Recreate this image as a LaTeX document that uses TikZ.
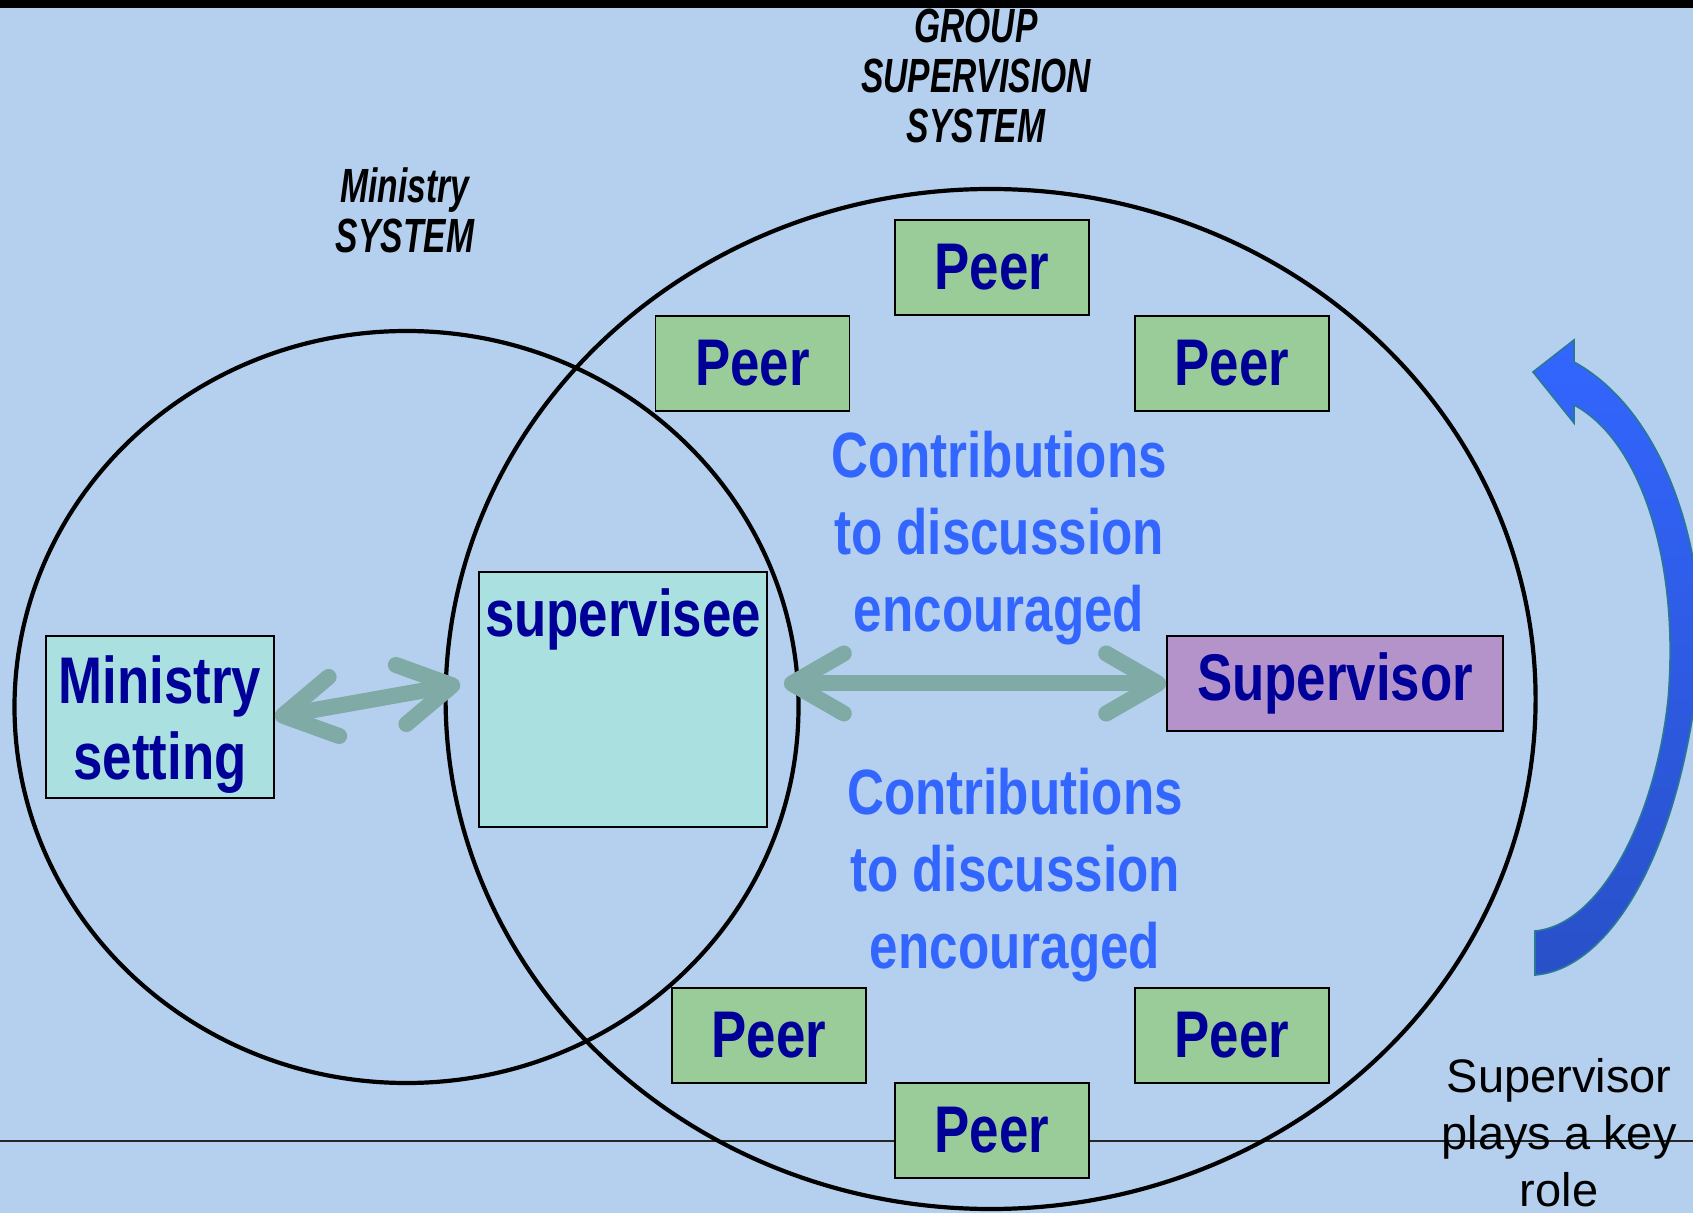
\documentclass[tikz,border=0pt]{standalone}
\usepackage{fontspec}
\setmainfont{Liberation Sans}
\newfontfamily\boxfont{Liberation Sans}[FakeStretch=0.8]
\newfontfamily\titlefont{Liberation Sans}[FakeStretch=0.7]
\usetikzlibrary{arrows.meta,shapes.geometric}
\definecolor{mybg}{RGB}{180,208,238}
\definecolor{peergreen}{RGB}{153,204,153}
\definecolor{cyanfill}{RGB}{170,224,224}
\definecolor{purplefill}{RGB}{179,147,201}
\definecolor{boxnavy}{RGB}{0,0,153}
\definecolor{contribblue}{RGB}{51,102,255}
\definecolor{linkteal}{RGB}{127,170,165}
\definecolor{curveblue}{RGB}{51,102,255}
\definecolor{curvedark}{RGB}{40,80,200}
\definecolor{curveedge}{RGB}{40,120,150}

\begin{document}
\begin{tikzpicture}[x=0.5pt,y=-0.5pt,
    boxtext/.style={font=\boxfont\bfseries\fontsize{33}{38}\selectfont, text=boxnavy},
    peerbox/.style={boxtext, draw=black, line width=0.8pt, fill=peergreen,
        minimum width=97pt, minimum height=47.5pt, inner sep=0pt},
    setbox/.style={boxtext, draw=black, line width=0.8pt, fill=cyanfill, inner sep=0pt},
    supbox/.style={boxtext, draw=black, line width=0.8pt, fill=purplefill,
        minimum width=168pt, minimum height=47.5pt, inner sep=0pt},
    titletext/.style={align=center, inner sep=0pt, font=\titlefont\bfseries\itshape\fontsize{24}{25}\selectfont},
    contribtext/.style={align=center, inner sep=0pt, text=contribblue, font=\boxfont\bfseries\fontsize{32}{38.3}\selectfont},
    keytext/.style={align=center, inner sep=0pt, font=\fontsize{23.5}{28.5}\selectfont},
    systemring/.style={ellipse, draw=black, line width=2.1pt, inner sep=0pt},
    link/.style={draw=linkteal, line width=8pt,
        {Straight Barb[length=26pt,width=30pt,round]}-{Straight Barb[length=26pt,width=30pt,round]}}]
    \useasboundingbox (0,0) rectangle (1693,1213);
    % Background
    \fill[mybg] (0,0) rectangle (1693,1213);
    \fill[black] (0,0) rectangle (1693,8);
    \draw[line width=1.3pt, black!85] (0,1141) -- (1693,1141);
    % Systems
    \node[systemring, minimum width=392pt, minimum height=376pt] (ministryring) at (406.5,707) {};
    \node[systemring, minimum width=545pt, minimum height=510pt] (groupring) at (990.6,699) {};
    \node[titletext] (groupsys) at (976,76) {GROUP\\SUPERVISION\\SYSTEM};
    \node[titletext] (ministrysys) at (405,210) {Ministry\\SYSTEM};
    % Peers
    \node[peerbox] (peerT) at (992,267.5) {Peer};
    \node[peerbox] (peerL) at (752.5,363.5) {Peer};
    \node[peerbox] (peerR) at (1232,363.5) {Peer};
    \node[peerbox] (peerBL) at (769,1035.5) {Peer};
    \node[peerbox] (peerBR) at (1232,1035.5) {Peer};
    \node[peerbox] (peerB) at (992,1130.5) {Peer};
    % Supervisee, setting, supervisor
    \node[setbox, minimum width=114pt, minimum height=81pt, align=center] (setting) at (160,717) {\rule{0pt}{31.5pt}Ministry\\setting};
    \node[setbox, minimum width=144pt, minimum height=127.5pt] (supervisee) at (623,699.5) {};
    \node[boxtext, anchor=base, inner sep=0pt] (superviseetext) at ([yshift=-32.5pt]supervisee.north) {supervisee};
    \node[supbox] (supervisor) at (1335,683.5) {Supervisor};
    % Contributions
    \node[contribtext] (contribA) at (999,538) {Contributions\\to discussion\\encouraged};
    \node[contribtext] (contribB) at (1015,875) {Contributions\\to discussion\\encouraged};
    % Links
    \draw[link] (setting.east) -- ([xshift=-9pt,yshift=7.75pt]supervisee.west);
    \draw[link] ([xshift=8pt,yshift=8pt]supervisee.east) -- (supervisor.west);
    % Key role arrow
    \path[draw=curveedge, line width=0.8pt, top color=curveblue, bottom color=curvedark]
        (1533,372) -- (1574,340) -- (1574,362)
        .. controls (1680,420) and (1720,600) .. (1692,720)
        .. controls (1665,880) and (1600,970) .. (1535,975)
        -- (1535,931)
        .. controls (1600,925) and (1655,820) .. (1668,700)
        .. controls (1680,560) and (1640,440) .. (1574,405)
        -- (1574,423) -- cycle;
    \node[keytext] (keyrole) at (1559,1133) {Supervisor\\plays a key\\role};
\end{tikzpicture}
\end{document}
